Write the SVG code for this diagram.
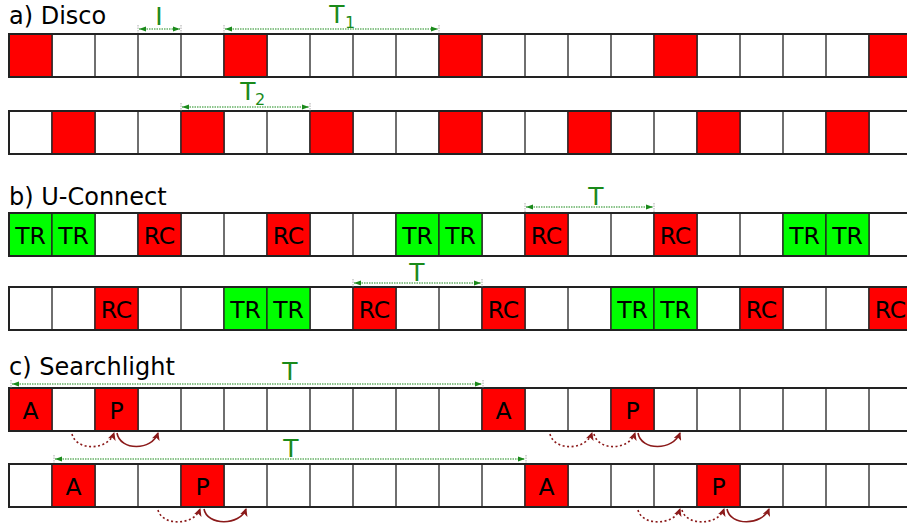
<svg xmlns="http://www.w3.org/2000/svg" xmlns:xlink="http://www.w3.org/1999/xlink" width="907" height="525" viewBox="0 0 907 525">
<style>
.lbl{font-family:"DejaVu Sans",sans-serif;font-size:24px;fill:#000}
.dim{font-family:"DejaVu Sans",sans-serif;font-size:25px;fill:#1a8a1a;text-anchor:middle}
.sub{font-family:"DejaVu Sans",sans-serif;font-size:16px;fill:#1a8a1a}
.ct{font-family:"DejaVu Sans",sans-serif;font-size:23.5px;fill:#000;text-anchor:middle}
.bg{fill:#fff;stroke:#222;stroke-width:2}
.div{fill:none;stroke:#333;stroke-width:1.4}
.r{fill:#ff0000;stroke:#222;stroke-width:1.3}
.g{fill:#00ff00;stroke:#222;stroke-width:1.3}
.dl{stroke:#1a8a1a;stroke-width:1.2;stroke-dasharray:1.5,1;fill:none;marker-start:url(#ga);marker-end:url(#ga)}
.tk{stroke:#aaa;stroke-width:1;stroke-dasharray:1.5,1}
.arc{fill:none;stroke:#8b1a1a;stroke-width:1.6;marker-end:url(#ra)}
.dot{stroke-dasharray:2,2.5}
</style>
<defs>
<marker id="ga" markerUnits="userSpaceOnUse" markerWidth="8" markerHeight="6" refX="7" refY="3" orient="auto-start-reverse"><path d="M0,0.5 L7,3 L0,5.5 z" fill="#1a8a1a"/></marker>
<marker id="ra" markerUnits="userSpaceOnUse" markerWidth="9" markerHeight="8" refX="7" refY="4" orient="auto"><path d="M0,0 L8,4 L0,8 L2,4 z" fill="#8b1a1a"/></marker>
<path id="dv" class="div" d="M52,0v43m43,-43v43m43,-43v43m43,-43v43m43,-43v43m43,-43v43m43,-43v43m43,-43v43m43,-43v43m43,-43v43m43,-43v43m43,-43v43m43,-43v43m43,-43v43m43,-43v43m43,-43v43m43,-43v43m43,-43v43m43,-43v43m43,-43v43"/>
</defs>
<rect width="907" height="525" fill="#fff"/>

<text class="lbl" x="9" y="24">a) Disco</text>
<text class="lbl" x="9" y="205">b) U-Connect</text>
<text class="lbl" x="9" y="375">c) Searchlight</text>

<g id="disco-row1">
<rect class="bg" x="9" y="34" width="910" height="43"/>
<use xlink:href="#dv" y="34"/>
<rect class="r" x="9" y="34" width="43" height="43"/>
<rect class="r" x="224" y="34" width="43" height="43"/>
<rect class="r" x="439" y="34" width="43" height="43"/>
<rect class="r" x="654" y="34" width="43" height="43"/>
<rect class="r" x="869" y="34" width="43" height="43"/>
<rect x="9" y="34" width="910" height="43" fill="none" stroke="#222" stroke-width="2"/>
</g>

<g id="disco-row2">
<rect class="bg" x="9" y="111" width="910" height="43"/>
<use xlink:href="#dv" y="111"/>
<rect class="r" x="52" y="111" width="43" height="43"/>
<rect class="r" x="181" y="111" width="43" height="43"/>
<rect class="r" x="310" y="111" width="43" height="43"/>
<rect class="r" x="439" y="111" width="43" height="43"/>
<rect class="r" x="568" y="111" width="43" height="43"/>
<rect class="r" x="697" y="111" width="43" height="43"/>
<rect class="r" x="826" y="111" width="43" height="43"/>
<rect x="9" y="111" width="910" height="43" fill="none" stroke="#222" stroke-width="2"/>
</g>

<g id="uconnect-row1">
<rect class="bg" x="9" y="213" width="910" height="43"/>
<use xlink:href="#dv" y="213"/>
<rect class="g" x="9" y="213" width="43" height="43"/>
<rect class="g" x="52" y="213" width="43" height="43"/>
<rect class="r" x="138" y="213" width="43" height="43"/>
<rect class="r" x="267" y="213" width="43" height="43"/>
<rect class="g" x="396" y="213" width="43" height="43"/>
<rect class="g" x="439" y="213" width="43" height="43"/>
<rect class="r" x="525" y="213" width="43" height="43"/>
<rect class="r" x="654" y="213" width="43" height="43"/>
<rect class="g" x="783" y="213" width="43" height="43"/>
<rect class="g" x="826" y="213" width="43" height="43"/>
<rect x="9" y="213" width="910" height="43" fill="none" stroke="#222" stroke-width="2"/>
<text class="ct" x="30.5" y="243.5">TR</text>
<text class="ct" x="73.5" y="243.5">TR</text>
<text class="ct" x="159.5" y="243.5">RC</text>
<text class="ct" x="288.5" y="243.5">RC</text>
<text class="ct" x="417.5" y="243.5">TR</text>
<text class="ct" x="460.5" y="243.5">TR</text>
<text class="ct" x="546.5" y="243.5">RC</text>
<text class="ct" x="675.5" y="243.5">RC</text>
<text class="ct" x="804.5" y="243.5">TR</text>
<text class="ct" x="847.5" y="243.5">TR</text>
</g>

<g id="uconnect-row2">
<rect class="bg" x="9" y="287" width="910" height="43"/>
<use xlink:href="#dv" y="287"/>
<rect class="r" x="95" y="287" width="43" height="43"/>
<rect class="g" x="224" y="287" width="43" height="43"/>
<rect class="g" x="267" y="287" width="43" height="43"/>
<rect class="r" x="353" y="287" width="43" height="43"/>
<rect class="r" x="482" y="287" width="43" height="43"/>
<rect class="g" x="611" y="287" width="43" height="43"/>
<rect class="g" x="654" y="287" width="43" height="43"/>
<rect class="r" x="740" y="287" width="43" height="43"/>
<rect class="r" x="869" y="287" width="43" height="43"/>
<rect x="9" y="287" width="910" height="43" fill="none" stroke="#222" stroke-width="2"/>
<text class="ct" x="116.5" y="317.5">RC</text>
<text class="ct" x="245.5" y="317.5">TR</text>
<text class="ct" x="288.5" y="317.5">TR</text>
<text class="ct" x="374.5" y="317.5">RC</text>
<text class="ct" x="503.5" y="317.5">RC</text>
<text class="ct" x="632.5" y="317.5">TR</text>
<text class="ct" x="675.5" y="317.5">TR</text>
<text class="ct" x="761.5" y="317.5">RC</text>
<text class="ct" x="890.5" y="317.5">RC</text>
</g>

<g id="searchlight-row1">
<rect class="bg" x="9" y="388" width="910" height="43"/>
<use xlink:href="#dv" y="388"/>
<rect class="r" x="9" y="388" width="43" height="43"/>
<rect class="r" x="95" y="388" width="43" height="43"/>
<rect class="r" x="482" y="388" width="43" height="43"/>
<rect class="r" x="611" y="388" width="43" height="43"/>
<rect x="9" y="388" width="910" height="43" fill="none" stroke="#222" stroke-width="2"/>
<text class="ct" x="30.5" y="418.5">A</text>
<text class="ct" x="116.5" y="418.5">P</text>
<text class="ct" x="503.5" y="418.5">A</text>
<text class="ct" x="632.5" y="418.5">P</text>
</g>

<g id="searchlight-row2">
<rect class="bg" x="9" y="464" width="910" height="43"/>
<use xlink:href="#dv" y="464"/>
<rect class="r" x="52" y="464" width="43" height="43"/>
<rect class="r" x="181" y="464" width="43" height="43"/>
<rect class="r" x="525" y="464" width="43" height="43"/>
<rect class="r" x="697" y="464" width="43" height="43"/>
<rect x="9" y="464" width="910" height="43" fill="none" stroke="#222" stroke-width="2"/>
<text class="ct" x="73.5" y="494.5">A</text>
<text class="ct" x="202.5" y="494.5">P</text>
<text class="ct" x="546.5" y="494.5">A</text>
<text class="ct" x="718.5" y="494.5">P</text>
</g>

<g id="connectors">
<!-- Disco I -->
<line class="tk" x1="138" y1="25" x2="138" y2="33"/>
<line class="tk" x1="181" y1="25" x2="181" y2="33"/>
<line class="dl" x1="139" y1="29" x2="180" y2="29"/>
<text class="dim" x="159" y="25">I</text>
<!-- Disco T1 -->
<line class="tk" x1="224" y1="25" x2="224" y2="33"/>
<line class="tk" x1="439" y1="25" x2="439" y2="33"/>
<line class="dl" x1="225" y1="29" x2="438" y2="29"/>
<text class="dim" x="337" y="23">T</text><text class="sub" x="345" y="28">1</text>
<!-- Disco T2 -->
<line class="tk" x1="181" y1="103" x2="181" y2="111"/>
<line class="tk" x1="310" y1="103" x2="310" y2="111"/>
<line class="dl" x1="182" y1="107" x2="309" y2="107"/>
<text class="dim" x="248" y="100">T</text><text class="sub" x="255" y="105">2</text>
<!-- U-Connect T -->
<line class="tk" x1="525" y1="203" x2="525" y2="212"/>
<line class="tk" x1="654" y1="203" x2="654" y2="212"/>
<line class="dl" x1="526" y1="207" x2="653" y2="207"/>
<text class="dim" x="596" y="205">T</text>
<line class="tk" x1="353" y1="279" x2="353" y2="287"/>
<line class="tk" x1="482" y1="279" x2="482" y2="287"/>
<line class="dl" x1="354" y1="283" x2="481" y2="283"/>
<text class="dim" x="417" y="281">T</text>
<!-- Searchlight T -->
<line class="tk" x1="11" y1="380" x2="11" y2="388"/>
<line class="tk" x1="483" y1="380" x2="483" y2="388"/>
<line class="dl" x1="12" y1="384" x2="482" y2="384"/>
<text class="dim" x="290" y="380">T</text>
<line class="tk" x1="54" y1="455" x2="54" y2="463"/>
<line class="tk" x1="526" y1="455" x2="526" y2="463"/>
<line class="dl" x1="55" y1="459" x2="525" y2="459"/>
<text class="dim" x="291" y="457">T</text>
<!-- Searchlight arcs row 1 -->
<path class="arc dot" d="M72,434 C76,451 108,451 114,433"/>
<path class="arc" d="M117,433 C120,451 152,451 158,433"/>
<path class="arc dot" d="M550,434 C554,451 586,451 592,433"/>
<path class="arc dot" d="M594,434 C598,451 629,451 635,433"/>
<path class="arc" d="M638,433 C641,451 673,451 680,433"/>
<!-- Searchlight arcs row 2 -->
<path class="arc dot" d="M158,510 C162,526 194,526 200,509"/>
<path class="arc" d="M204,509 C207,526 240,526 246,509"/>
<path class="arc dot" d="M638,510 C642,526 674,526 680,509"/>
<path class="arc dot" d="M682,510 C686,526 718,526 724,509"/>
<path class="arc" d="M727,509 C730,526 762,526 769,509"/>
</g>
</svg>
